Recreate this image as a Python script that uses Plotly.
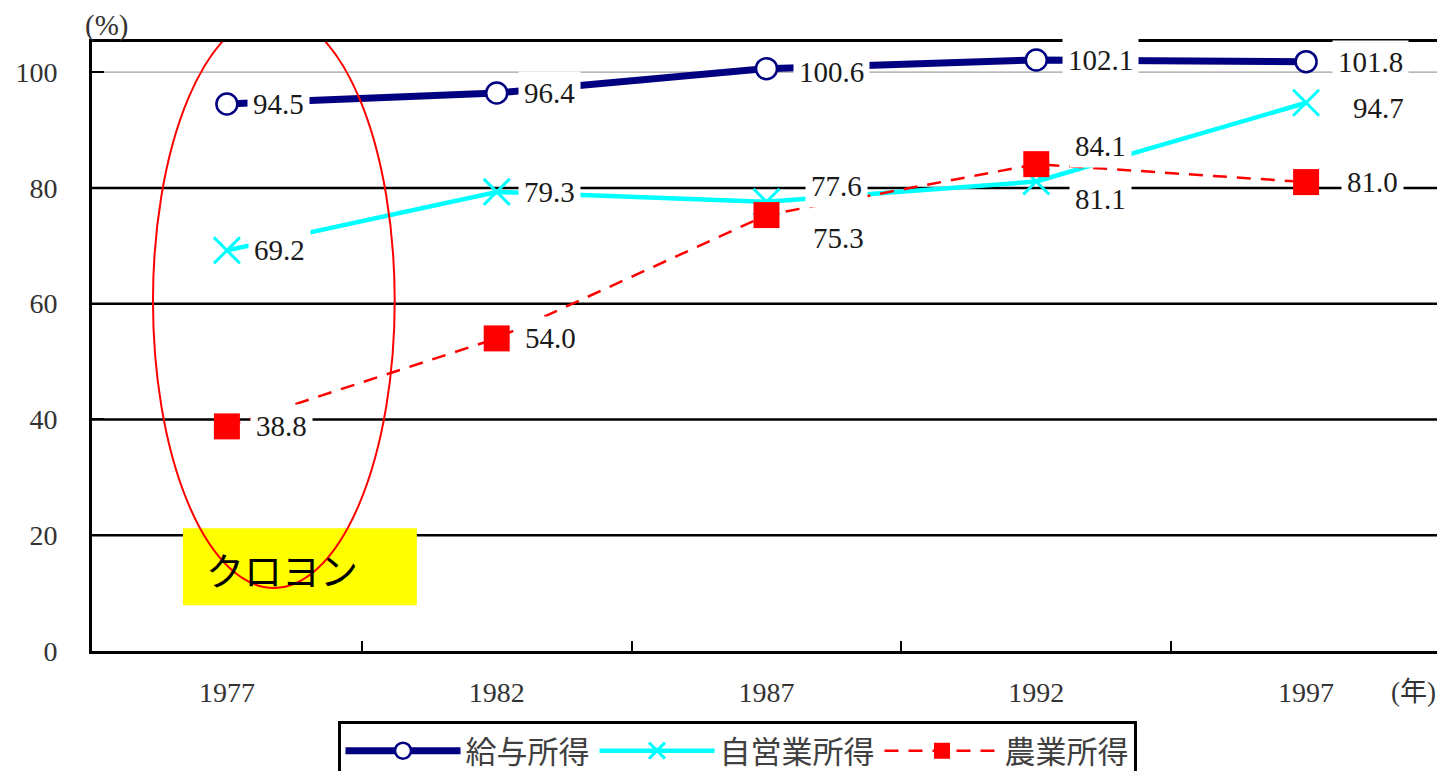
import plotly.graph_objects as go

years = ["1977", "1982", "1987", "1992", "1997"]
wage = [94.5, 96.4, 100.6, 102.1, 101.8]
selfemp = [69.2, 79.3, 77.6, 81.1, 94.7]
farm = [38.8, 54.0, 75.3, 84.1, 81.0]
names = ["給与所得", "自営業所得", "農業所得"]
y_ticks = [0, 20, 40, 60, 80, 100]

# label offsets (px) - styling only
wage_off = [(52, 0), (53, 0), (65, -3), (64, 0), (64, 0)]
self_off = [(53, 0), (53, 0), (70, 16), (64, -17), (72, -5)]
farm_off = [(55, 0), (54, 0), (72, -23), (64, 18), (66, 0)]

SERIF = "Liberation Serif, Times New Roman, serif"
CJK = "Noto Sans CJK JP"

# page body has an 8px default margin; figure sized to fit the window
W, H = 1437, 763
ML, MT, PW, PH = 84, 34, 1349, 609

def px_x(px):  # page pixel -> paper x
    return (px - 8 - ML) / PW

def px_y(py):  # page pixel -> paper y
    return (MT + PH - (py - 8)) / PH

fig = go.Figure()
fig.add_trace(go.Scatter(
    x=years, y=wage, name=names[0], mode="lines+markers",
    line=dict(color="#000080", width=7),
    marker=dict(symbol="circle", size=21, color="white", line=dict(color="#000080", width=2.5)),
))
fig.add_trace(go.Scatter(
    x=years, y=selfemp, name=names[1], mode="lines+markers",
    line=dict(color="#00FFFF", width=4.5),
    marker=dict(symbol="x-thin", size=26, color="#00FFFF", line=dict(color="#00FFFF", width=3)),
))
fig.add_trace(go.Scatter(
    x=years, y=farm, name=names[2], mode="lines+markers",
    line=dict(color="#FF0000", width=2.5, dash="14px,10px"),
    marker=dict(symbol="square", size=26, color="#FF0000"),
))

ann = []
for vals, offs in ((wage, wage_off), (selfemp, self_off), (farm, farm_off)):
    for i, (v, (dx, dy)) in enumerate(zip(vals, offs)):
        ann.append(dict(
            x=i, y=v, xref="x", yref="y", text=f"{v:.1f}", showarrow=False,
            xshift=dx, yshift=dy, bgcolor="white", borderpad=5,
            font=dict(family=SERIF, size=29, color="#1a1a1a"),
        ))

ann.append(dict(x=px_x(106), y=px_y(8), xref="paper", yref="paper", text="(%)",
                showarrow=False, xanchor="center", yanchor="top", borderpad=0,
                font=dict(family=SERIF, size=29, color="#333")))
ann.append(dict(x=px_x(1413), y=px_y(692), xref="paper", yref="paper",
                text="(年)", showarrow=False, xanchor="center", yanchor="middle",
                font=dict(family=SERIF + ", " + CJK, size=27, color="#333")))
ann.append(dict(x=-0.085, y=14.3, xref="x", yref="y", text="クロヨン", showarrow=False,
                xanchor="left", yanchor="middle",
                font=dict(family=CJK, size=38, color="black")))

shapes = []
for t in y_ticks[1:]:
    if t == 100:
        shapes.append(dict(type="line", xref="paper", yref="y", x0=0, x1=1, y0=t, y1=t,
                           line=dict(color="#888", width=1), layer="below"))
    else:
        shapes.append(dict(type="line", xref="paper", yref="y", x0=0, x1=1, y0=t, y1=t,
                           line=dict(color="black", width=2.5), layer="below"))
shapes.append(dict(type="rect", xref="x", yref="y", x0=-0.163, x1=0.704, y0=7.9, y1=21.2,
                   fillcolor="#FFFF00", line=dict(width=0), layer="above"))
shapes.append(dict(type="circle", xref="x", yref="y", x0=-0.274, x1=0.622, y0=10.9, y1=110.0,
                   line=dict(color="#FF0000", width=2), layer="above"))

fig.update_layout(
    width=W, height=H,
    margin=dict(l=ML, r=W - ML - PW, t=MT, b=H - MT - PH, autoexpand=False),
    plot_bgcolor="white", paper_bgcolor="white",
    annotations=ann, shapes=shapes,
    legend=dict(orientation="h", x=px_x(737), xanchor="center",
                yref="container", y=(H - (721 - 8)) / H, yanchor="top",
                bgcolor="white", bordercolor="black", borderwidth=3,
                font=dict(family=CJK, size=31, color="#404040"), itemwidth=115,
                tracegroupgap=0),
    showlegend=True,
)
fig.update_xaxes(
    type="category", categoryorder="array", categoryarray=years, range=[-0.5, 4.5],
    showgrid=False, showline=True, linecolor="black", linewidth=3, mirror=True,
    ticks="inside", tickson="boundaries", ticklen=10, tickwidth=2, tickcolor="black",
    ticklabelstandoff=14, automargin=False,
    tickfont=dict(family=SERIF, size=28, color="#333"),
)
fig.update_yaxes(
    range=[0, 105.2], tickvals=y_ticks, showgrid=False, zeroline=False,
    showline=True, linecolor="black", linewidth=3, mirror=True,
    ticks="inside", ticklen=12, tickwidth=2, tickcolor="black",
    ticklabelstandoff=26, automargin=False,
    tickfont=dict(family=SERIF, size=28, color="#333"),
)

fig.write_html("out.html")
